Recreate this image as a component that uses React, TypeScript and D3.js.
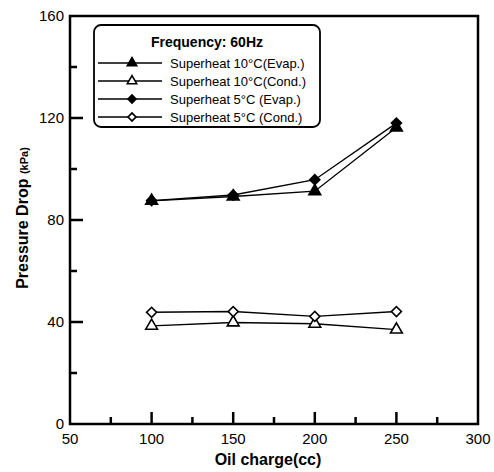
import React, { useEffect, useRef } from 'react';
import * as d3 from 'd3';

const oilCharge = [100, 150, 200, 250];
const sh10Evap = [87.5, 89.2, 91.3, 116.3];
const sh10Cond = [38.5, 39.8, 39.3, 37.0];
const sh5Evap = [87.6, 89.8, 95.8, 118.0];
const sh5Cond = [43.8, 44.1, 42.2, 44.1];
const xTicks = [50, 100, 150, 200, 250, 300];
const yTicks = [0, 40, 80, 120, 160];
const legendTitle = 'Frequency: 60Hz';

const seriesList = [
  { name: 'Superheat 10\u00B0C(Evap.)', values: sh10Evap, shape: 'tri', fill: true },
  { name: 'Superheat 10\u00B0C(Cond.)', values: sh10Cond, shape: 'tri', fill: false },
  { name: 'Superheat 5\u00B0C (Evap.)', values: sh5Evap, shape: 'dia', fill: true },
  { name: 'Superheat 5\u00B0C (Cond.)', values: sh5Cond, shape: 'dia', fill: false },
];

const App = () => {
  const svgRef = useRef(null);

  useEffect(() => {
    const width = 494;
    const height = 472;
    const margin = { top: 16, right: 16, bottom: 48, left: 70 };
    const chartWidth = width - margin.left - margin.right;
    const chartHeight = height - margin.top - margin.bottom;

    const svg = d3.select(svgRef.current).attr('width', width).attr('height', height);
    svg.selectAll('*').remove();
    svg.append('rect').attr('width', width).attr('height', height).attr('fill', '#fff');

    const x = d3.scaleLinear().domain([50, 300]).range([0, chartWidth]);
    const y = d3.scaleLinear().domain([0, 160]).range([chartHeight, 0]);

    const g = svg.append('g').attr('transform', `translate(${margin.left},${margin.top})`);
    const font = 'Liberation Sans, Arial, sans-serif';

    // frame
    g.append('rect')
      .attr('width', chartWidth)
      .attr('height', chartHeight)
      .attr('fill', 'none')
      .attr('stroke', '#000')
      .attr('stroke-width', 2.5);

    // ticks point inward
    d3.range(75, 300, 25).forEach(v => {
      const major = v % 50 === 0;
      g.append('line')
        .attr('x1', x(v)).attr('x2', x(v))
        .attr('y1', chartHeight).attr('y2', chartHeight - (major ? 12 : 7))
        .attr('stroke', '#000').attr('stroke-width', 2.5);
    });
    d3.range(20, 160, 20).forEach(v => {
      const major = v % 40 === 0;
      g.append('line')
        .attr('x1', 0).attr('x2', major ? 13 : 7)
        .attr('y1', y(v)).attr('y2', y(v))
        .attr('stroke', '#000').attr('stroke-width', 2.5);
    });

    g.selectAll('.xlab')
      .data(xTicks)
      .enter()
      .append('text')
      .attr('x', d => x(d))
      .attr('y', chartHeight + 20)
      .attr('text-anchor', 'middle')
      .style('font-family', font)
      .style('font-size', '15px')
      .text(d => d);

    g.selectAll('.ylab')
      .data(yTicks)
      .enter()
      .append('text')
      .attr('x', -6)
      .attr('y', d => y(d) + 5)
      .attr('text-anchor', 'end')
      .style('font-family', font)
      .style('font-size', '15px')
      .text(d => d);

    g.append('text')
      .attr('x', chartWidth / 2 - 6)
      .attr('y', chartHeight + 41)
      .attr('text-anchor', 'middle')
      .style('font-family', font)
      .style('font-size', '16px')
      .style('font-weight', 'bold')
      .text('Oil charge(cc)');

    const yt = g.append('text')
      .attr('transform', 'rotate(-90)')
      .attr('x', -(218 - margin.top))
      .attr('y', -42)
      .attr('text-anchor', 'middle')
      .style('font-family', font)
      .style('font-weight', 'bold');
    yt.append('tspan').style('font-size', '16px').text('Pressure Drop ');
    yt.append('tspan').style('font-size', '11px').text('(kPa)');

    const tri = d3.symbol().type(d3.symbolTriangle).size(60);
    const dia = d3.symbol().type(d3.symbolSquare).size(50);

    const line = d3.line<number>()
      .x((d, i) => x(oilCharge[i]))
      .y(d => y(d));

    const drawMarker = (sel, s, cx, cy, scale = 1) => {
      sel.append('path')
        .attr('d', s.shape === 'tri' ? tri() : dia())
        .attr('transform', `translate(${cx},${cy})${s.shape === 'dia' ? ' rotate(45)' : ''} scale(${scale})`)
        .attr('fill', s.fill ? '#000' : '#fff')
        .attr('stroke', '#000')
        .attr('stroke-width', 1.6 / scale);
    };

    seriesList.forEach(s => {
      g.append('path')
        .datum(s.values)
        .attr('d', line)
        .attr('fill', 'none')
        .attr('stroke', '#000')
        .attr('stroke-width', 1.4);
    });
    seriesList.forEach(s => {
      s.values.forEach((v, i) => drawMarker(g, s, x(oilCharge[i]), y(v)));
    });

    // legend
    const lg = svg.append('g').attr('transform', 'translate(94,25)');
    lg.append('rect')
      .attr('width', 226)
      .attr('height', 102)
      .attr('rx', 7)
      .attr('fill', '#fff')
      .attr('stroke', '#000')
      .attr('stroke-width', 1.8);
    lg.append('text')
      .attr('x', 113)
      .attr('y', 22)
      .attr('text-anchor', 'middle')
      .style('font-family', font)
      .style('font-size', '14px')
      .style('font-weight', 'bold')
      .text(legendTitle);
    seriesList.forEach((s, i) => {
      const ry = 38 + i * 18;
      lg.append('line')
        .attr('x1', 4).attr('x2', 68)
        .attr('y1', ry).attr('y2', ry)
        .attr('stroke', '#000').attr('stroke-width', 1.4);
      drawMarker(lg, s, 38, ry, 0.8);
      lg.append('text')
        .attr('x', 76)
        .attr('y', ry + 5)
        .style('font-family', font)
        .style('font-size', '13px')
        .text(s.name);
    });
  }, []);

  return (
    <div>
      <svg ref={svgRef} style={{ position: 'absolute', left: 0, top: 0 }}></svg>
    </div>
  );
};

export default App;
